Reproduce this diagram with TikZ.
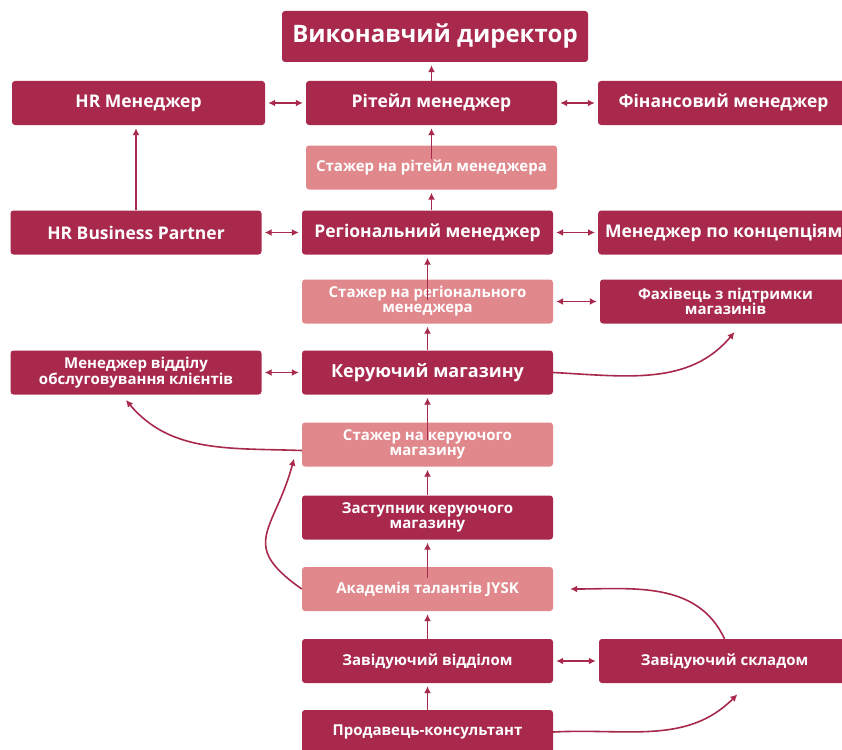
\documentclass[tikz,border=0pt]{standalone}
\usepackage{fontspec}
\setmainfont{Open Sans}
\usetikzlibrary{positioning,arrows.meta}
\definecolor{jyskred}{HTML}{A8294C}
\definecolor{jyskpink}{HTML}{E0888C}
\newcommand{\fsz}[1]{\bfseries\fontsize{#1}{#1}\selectfont}

\begin{document}
\begin{tikzpicture}[x=1pt,y=1pt,
box/.style={fill=jyskred,rounded corners=3pt,minimum width=251pt,minimum height=44pt,inner sep=0pt,text=white,align=center,font=\fsz{17.5}},
pale/.style={box,fill=jyskpink,font=\fsz{15}},
small/.style={font=\fsz{15}},
link/.style={draw=jyskred,line width=1.6pt,shorten >=3pt,-{Latex[length=7pt,width=7pt]}},
both/.style={link,shorten <=3pt,{Latex[length=7pt,width=7pt]}-{Latex[length=7pt,width=7pt]}}]
\useasboundingbox (0,0) rectangle (842,-749);
\clip (0,0) rectangle (842,-749);

% top level
\node (ceo) [box,minimum width=306pt,minimum height=51pt,font=\fsz{24}] at (435,-36.5) {Виконавчий директор};
\node (hrm) [box,minimum width=253pt] at (138.5,-103) {HR Менеджер};
\node (ret) [box] at (431.5,-103) {Рітейл менеджер};
\node (fin) [box] at (723.5,-103) {Фінансовий менеджер};
\node (tret) [pale] at (431.5,-167.5) {Стажер на рітейл менеджера};

% regional level
\node (hrbp) [box] at (136,-232.5) {HR Business Partner};
\node (reg) [box] at (427.5,-232.5) {Регіональний менеджер};
\node (con) [box,anchor=west,inner xsep=6pt] at (598,-232.5) {Менеджер по концепціям};
\node (treg) [pale] at (427.5,-301.5) {Стажер на регіонального\\менеджера};
\node (sup) [box,small] at (725.5,-301.5) {Фахівець з підтримки\\магазинів};

% store level
\node (cs) [box,small] at (136,-372.5) {Менеджер відділу\\обслуговування клієнтів};
\node (sm) [box,font=\fsz{18}] at (427.5,-372.5) {Керуючий магазину};
\node (tsm) [pale] at (427.5,-444.5) {Стажер на керуючого\\магазину};
\node (dep) [box,small] at (427.5,-517.5) {Заступник керуючого\\магазину};
\node (acad) [pale] at (427.5,-589) {Академія талантів JYSK};
\node (head) [box,small] at (427.5,-661) {Завідуючий відділом};
\node (wh) [box,small] at (724.5,-661) {Завідуючий складом};
\node (sales) [box,small] at (427.5,-732) {Продавець-консультант};

% straight links
\draw [link] (ret.north) -- (ret.north |- ceo.south);
\draw [both] (hrm) -- (ret);
\draw [both] (ret) -- (fin);
\draw [link] ([yshift=-14pt]tret.north) -- (tret.north |- ret.south);
\draw [link] (reg.north -| tret.south) -- (tret.south);
\draw [link] (hrbp.north) -- (hrbp.north |- hrm.south);
\draw [both] (hrbp) -- (reg);
\draw [both] (reg) -- (con);
\draw [link] ([yshift=-21pt]treg.north) -- (reg);
\draw [both] (treg) -- (sup);
\draw [link] (sm) -- (treg);
\draw [both] (cs) -- (sm);
\draw [link] ([yshift=-18pt]tsm.north) -- (sm);
\draw [link] (dep) -- (tsm);
\draw [link] ([yshift=-11pt]acad.north) -- (dep);
\draw [link] (head) -- (acad);
\draw [both] (head) -- (wh);
\draw [link] (sales) -- (head);

% curved links
\draw [link] (sm.east) to[out=-3,in=-130] ([shift={(11,-6)}]sup.south);
\draw [link] ([yshift=-6pt]tsm.west) to[out=178,in=-50] ([shift={(-12,-3)}]cs.south);
\draw [link] (acad.west) to[out=145,in=-105,looseness=1.5] ([shift={(-7,11)}]tsm.south west);
\draw [link] (wh.north) to[out=115,in=0] ([xshift=14pt]acad.east);
\draw [link] (sales.east) to[out=3,in=-135] ([shift={(15,-9)}]wh.south);
\end{tikzpicture}
\end{document}
